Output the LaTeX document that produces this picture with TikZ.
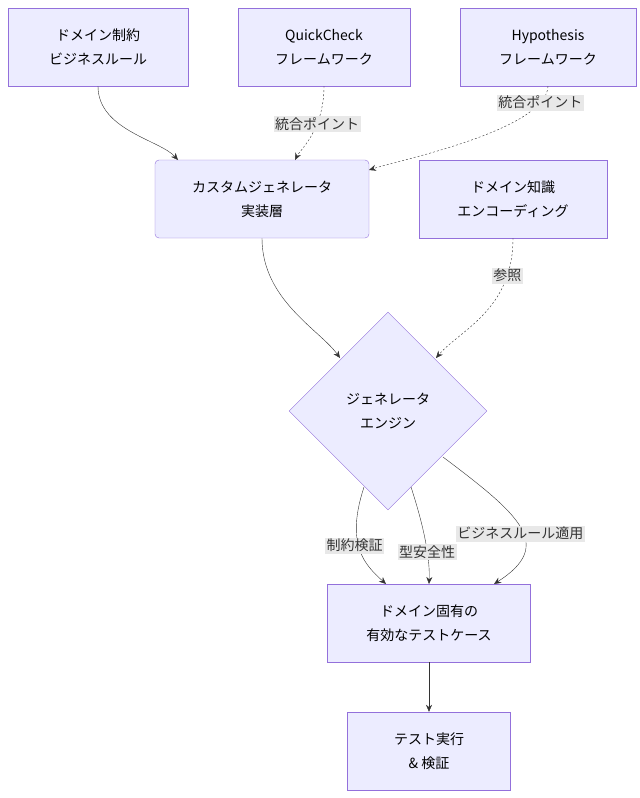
\documentclass[tikz,border=0pt]{standalone}
\usepackage{fontspec}
\setmainfont{Noto Sans CJK JP}
\usetikzlibrary{shapes.geometric,arrows.meta,positioning}
\definecolor{boxfill}{HTML}{ECECFF}
\definecolor{boxline}{HTML}{9370DB}
\definecolor{lblfill}{HTML}{E8E8E8}
\tikzstyle{etape}=[draw=boxline, fill=boxfill, align=center, inner sep=0pt,
  font=\fontsize{14}{24}\selectfont]
\tikzstyle{line}=[draw, color=black!80, -{Stealth[length=7pt,width=6pt]}]
\tikzstyle{linepart}=[line, dash pattern=on 2pt off 2pt]
\tikzstyle{lbl}=[fill=lblfill, inner sep=1.5pt, font=\fontsize{14}{16}\selectfont]
\begin{document}
\begin{tikzpicture}[x=1pt,y=-1pt]
  \useasboundingbox (0,0) rectangle (640,798);

  % Draw diagram elements
  \node (rules) [etape, minimum width=180pt, minimum height=78pt] at (98,47) {ドメイン制約\\ビジネスルール};
  \node (qc) [etape, minimum width=172pt, minimum height=78pt] at (324,47) {QuickCheck\\フレームワーク};
  \node (hyp) [etape, minimum width=176pt, minimum height=78pt] at (548,47) {Hypothesis\\フレームワーク};
  \node (impl) [etape, rounded corners=4pt, minimum width=214pt, minimum height=78pt] at (262,199) {カスタムジェネレータ\\実装層};
  \node (know) [etape, minimum width=188pt, minimum height=78pt] at (513,199) {ドメイン知識\\エンコーディング};
  \node (engine) [etape, diamond, minimum width=198pt, minimum height=198pt] at (388,411) {ジェネレータ\\エンジン};
  \node (cases) [etape, minimum width=203pt, minimum height=78pt] at (429,623) {ドメイン固有の\\有効なテストケース};
  \node (run) [etape, minimum width=163pt, minimum height=78pt] at (429,751) {テスト実行\\\& 検証};

  % Draw arrows between elements
  \path [line] (rules.south) .. controls (98,130) and (160,140) .. (178,160);
  \path [linepart] (qc.south) .. controls (324,130) and (300,150) .. node[lbl, pos=0.35] {統合ポイント} (295,160);
  \path [linepart] (hyp.south) .. controls (546,130) and (400,160) .. node[lbl, pos=0.13] {統合ポイント} (369,170);
  \path [line] (impl.south) .. controls (262,300) and (320,330) .. (340,358);
  \path [linepart] (know.south) .. controls (513,310) and (460,330) .. node[lbl, pos=0.2] {参照} (436,358);
  \path [line] (364,487) .. controls (345,545) and (365,565) .. node[lbl, pos=0.45, xshift=-4pt] {制約検証} (386,584);
  \path [line] (411,487) .. controls (425,530) and (430,560) .. node[lbl, pos=0.6] {型安全性} (429,584);
  \path [line] (443,457) .. controls (520,515) and (555,545) .. node[lbl, pos=0.5, yshift=-6pt] {ビジネスルール適用} (494,584);
  \path [line] (cases.south) -- (run.north);
\end{tikzpicture}
\end{document}
